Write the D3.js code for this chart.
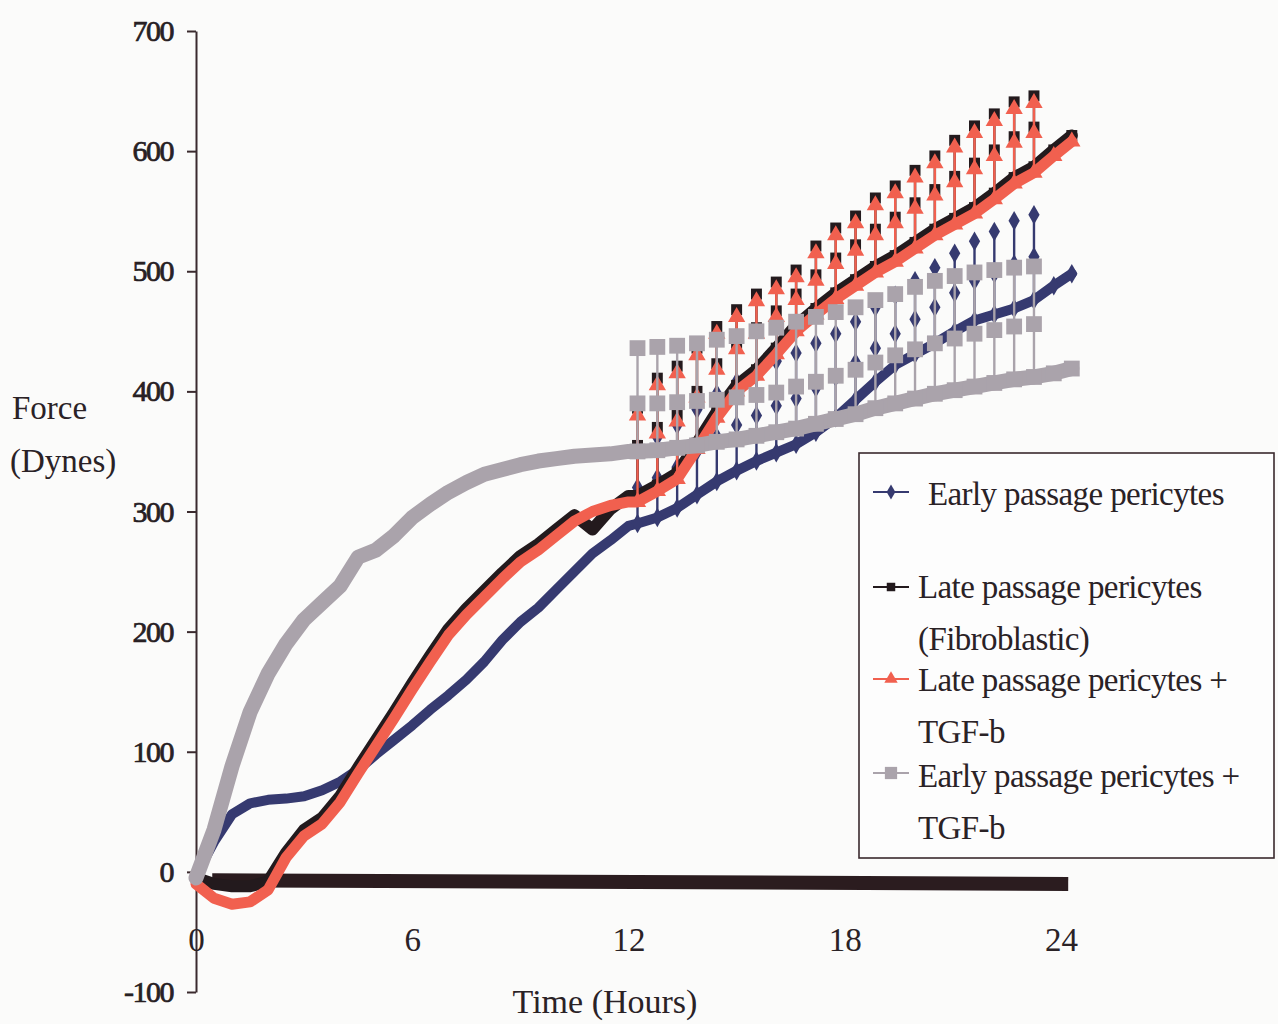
<!DOCTYPE html>
<html>
<head>
<meta charset="utf-8">
<script src="https://cdn.jsdelivr.net/npm/d3@7"></script>
<style>
  html, body { margin: 0; padding: 0; background: #fbfbfa; }
  svg { display: block; }
  text { font-family: "Liberation Serif", "Times New Roman", serif; fill: #2a2226; }
</style>
</head>
<body>
<svg id="chart" width="1278" height="1024"></svg>
<script>
// ---- data: hours and force (dynes) ----
const tEarly = [0, 0.5, 1, 1.5, 2, 2.5, 3, 3.5, 4, 4.5, 5, 5.5, 6, 6.5, 7, 7.5, 8, 8.5, 9, 9.5, 10, 10.5, 11, 11.5, 12];
const earlyPassage   = [-3, 25, 48, 57, 60, 61, 63, 68, 75, 85, 98, 110, 122, 135, 147, 160, 175, 193, 208, 220, 235, 250, 265, 276, 288];
const latePassage    = [-5, -10, -12, -12, -8, 16, 35, 45, 63, 87, 110, 133, 157, 180, 202, 219, 234, 249, 263, 273, 285, 297, 285, 302, 313];
const lateTgf        = [-10, -22, -27, -25, -15, 12, 30, 40, 58, 82, 105, 128, 152, 175, 197, 214, 229, 244, 258, 268, 280, 292, 300, 305, 308];
const earlyTgf       = [-5, 35, 88, 133, 165, 190, 210, 224, 238, 262, 268, 280, 295, 306, 316, 324, 331, 335, 339, 342, 344, 346, 347, 348, 350];

// second half of the run: lower trace
const tLate = [12.25, 12.8, 13.35, 13.9, 14.45, 15.0, 15.55, 16.1, 16.65, 17.2, 17.75, 18.3, 18.85, 19.4, 19.95, 20.5, 21.05, 21.6, 22.15, 22.7, 23.25, 23.8, 24.3];
const earlyPassageLow = [290, 295, 303, 314, 325, 334, 342, 349, 356, 366, 378, 393, 408, 422, 431, 440, 450, 459, 464, 469, 476, 488, 498];
const latePassageLow  = [313, 322, 332, 357, 383, 405, 418, 436, 455, 469, 482, 493, 504, 513, 524, 535, 544, 553, 565, 578, 587, 601, 613];
const lateTgfLow      = [308, 317, 327, 352, 378, 400, 413, 431, 450, 464, 477, 488, 499, 508, 519, 530, 539, 548, 560, 573, 582, 596, 608];
const earlyTgfLow     = [350, 351, 353, 355, 358, 360, 363, 366, 369, 373, 377, 381, 386, 390, 394, 398, 401, 404, 407, 410, 412, 415, 419];

// second half of the run: middle and upper readings at each bar
const tBars = [12.25, 12.8, 13.35, 13.9, 14.45, 15.0, 15.55, 16.1, 16.65, 17.2, 17.75, 18.3, 18.85, 19.4, 19.95, 20.5, 21.05, 21.6, 22.15, 22.7, 23.25];
const earlyPassageMid  = [320, 328, 337, 350, 362, 372, 380, 388, 394, 403, 412, 424, 436, 448, 460, 470, 482, 492, 498, 506, 512];
const earlyPassageHigh = [350, 362, 372, 385, 398, 408, 418, 425, 432, 440, 448, 458, 470, 480, 492, 503, 515, 525, 533, 542, 547];
const latePassageMid   = [355, 370, 380, 400, 423, 440, 453, 467, 481, 497, 511, 522, 535, 545, 557, 568, 579, 590, 601, 612, 620];
const latePassageHigh  = [386, 411, 421, 436, 454, 468, 481, 491, 501, 521, 536, 546, 561, 571, 584, 596, 609, 621, 631, 641, 646];
const lateTgfMid       = [350, 365, 375, 395, 418, 435, 448, 462, 476, 492, 506, 517, 530, 540, 552, 563, 574, 585, 596, 607, 615];
const lateTgfHigh      = [380, 405, 415, 430, 448, 462, 475, 485, 495, 515, 530, 540, 555, 565, 578, 590, 603, 615, 625, 635, 640];
const earlyTgfMid      = [390, 390, 391, 392, 393, 395, 397, 399, 404, 408, 413, 418, 424, 430, 435, 440, 444, 448, 451, 454, 456];
const earlyTgfHigh     = [436, 437, 438, 440, 443, 446, 450, 453, 458, 462, 466, 470, 476, 481, 487, 492, 496, 499, 501, 503, 504];

// cell-free reference trace
const tBaseline = [0.45, 24.2];
const baselineForce = [-7, -10];

const yTicks = [-100, 0, 100, 200, 300, 400, 500, 600, 700];
const xTicks = [0, 6, 12, 18, 24];

const seriesNames = ["Early passage pericytes", "Late passage pericytes (Fibroblastic)", "Late passage pericytes + TGF-b", "Early passage pericytes + TGF-b"];
const legendLines = [["Early passage pericytes"], ["Late passage pericytes", "(Fibroblastic)"], ["Late passage pericytes +", "TGF-b"], ["Early passage pericytes +", "TGF-b"]];

// ---- series table ----
const series = [
  { name: seriesNames[0], color: "#363a70", symbol: d3.symbolDiamond, size: 110, band: 10,
    early: earlyPassage, low: earlyPassageLow, mid: earlyPassageMid, high: earlyPassageHigh },
  { name: seriesNames[1], color: "#231a1d", symbol: d3.symbolSquare, size: 120, band: 12,
    early: latePassage, low: latePassageLow, mid: latePassageMid, high: latePassageHigh },
  { name: seriesNames[2], color: "#f1604f", symbol: d3.symbolTriangle, size: 130, band: 11,
    early: lateTgf, low: lateTgfLow, mid: lateTgfMid, high: lateTgfHigh },
  { name: seriesNames[3], color: "#aaa3ab", symbol: d3.symbolSquare, size: 250, band: 15,
    early: earlyTgf, low: earlyTgfLow, mid: earlyTgfMid, high: earlyTgfHigh }
];

const svg = d3.select("#chart");
const x = d3.scaleLinear().domain([0, 24]).range([196, 1061]);
const y = d3.scaleLinear().domain([-100, 700]).range([992, 31]);
const plain = d => String(d);

// cell-free trace (thick dark bar)
const baseline = tBaseline.map((t, i) => [t, baselineForce[i]]);
svg.append("path")
  .datum(baseline)
  .attr("d", d3.line().x(d => x(d[0])).y(d => y(d[1])))
  .attr("stroke", "#2b1c1f").attr("stroke-width", 14).attr("fill", "none");

// y axis
const yAxis = svg.append("g")
  .attr("transform", `translate(${x(0)},0)`)
  .call(d3.axisLeft(y).tickValues(yTicks).tickSize(9).tickSizeOuter(0).tickPadding(14).tickFormat(plain));
yAxis.select(".domain").attr("stroke", "#3a2a2e").attr("stroke-width", 2);
yAxis.selectAll(".tick line").attr("stroke", "#3a2a2e").attr("stroke-width", 2);
yAxis.selectAll(".tick text")
  .style("font-family", "'Liberation Serif', serif").style("font-size", "30px")
  .style("letter-spacing", "-1.5px").attr("fill", "#221a1d")
  .attr("stroke", "#221a1d").attr("stroke-width", 0.7);

// x tick labels (no axis line)
const xAxis = svg.append("g")
  .attr("transform", `translate(0,${y(-56)})`)
  .call(d3.axisBottom(x).tickValues(xTicks).tickSize(0).tickPadding(0).tickFormat(plain));
xAxis.select(".domain").remove();
xAxis.selectAll(".tick text")
  .style("font-family", "'Liberation Serif', serif").style("font-size", "33px")
  .attr("dy", "0.35em").attr("fill", "#2a2226");

// axis titles
svg.append("text").attr("x", 12).attr("y", 419).style("font-size", "33px").text("Force");
svg.append("text").attr("x", 10).attr("y", 472).style("font-size", "33px").text("(Dynes)");
svg.append("text").attr("x", 605).attr("y", 1013).attr("text-anchor", "middle").style("font-size", "34px").text("Time (Hours)");

const line = d3.line().x(d => x(d[0])).y(d => y(d[1]));

// traces, drawn in legend order so later series sit on top
series.forEach((s, idx) => {
  const g = svg.append("g").attr("class", "series-" + idx);
  const firstHalf = tEarly.map((t, i) => [t, s.early[i]]);
  const secondHalf = tLate.map((t, i) => [t, s.low[i]]);
  const pts = firstHalf.concat(secondHalf);
  const bars = tBars.map((t, i) => ({ t, lo: s.low[i], mid: s.mid[i], hi: s.high[i] }));

  // vertical spread between lower and upper readings
  g.selectAll("line.bar").data(bars).join("line")
    .attr("class", "bar")
    .attr("x1", d => x(d.t)).attr("x2", d => x(d.t))
    .attr("y1", d => y(d.lo)).attr("y2", d => y(d.hi))
    .attr("stroke", s.color).attr("stroke-width", 2.4);

  g.append("path").datum(pts)
    .attr("d", line)
    .attr("fill", "none").attr("stroke", s.color)
    .attr("stroke-width", s.band).attr("stroke-linejoin", "round").attr("stroke-linecap", "round");

  const sym = d3.symbol().type(s.symbol).size(s.size);
  g.selectAll("path.pt").data(secondHalf).join("path")
    .attr("class", "pt")
    .attr("transform", d => `translate(${x(d[0])},${y(d[1])})`)
    .attr("d", sym).attr("fill", s.color);

  const marks = bars.flatMap(b => [[b.t, b.mid], [b.t, b.hi]]);
  g.selectAll("path.mk").data(marks).join("path")
    .attr("class", "mk")
    .attr("transform", d => `translate(${x(d[0])},${y(d[1])})`)
    .attr("d", sym).attr("fill", s.color);
});

// legend
const legend = svg.append("g");
legend.append("rect")
  .attr("x", 859).attr("y", 453).attr("width", 415).attr("height", 405)
  .attr("fill", "#fdfdfd").attr("stroke", "#3a2a2e").attr("stroke-width", 1.6);

const legendRows = [
  { sx: 873, sy: 492, tx: 928, ty: 505 },
  { sx: 873, sy: 587, tx: 918, ty: 598 },
  { sx: 873, sy: 679, tx: 918, ty: 691 },
  { sx: 873, sy: 773, tx: 918, ty: 787 }
];
series.forEach((s, i) => {
  const r = legendRows[i];
  legend.append("line")
    .attr("x1", r.sx).attr("x2", r.sx + 36).attr("y1", r.sy).attr("y2", r.sy)
    .attr("stroke", s.color).attr("stroke-width", 2);
  legend.append("path")
    .attr("transform", `translate(${r.sx + 18},${r.sy})`)
    .attr("d", d3.symbol().type(s.symbol).size(s.size * 0.6)).attr("fill", s.color);
  legendLines[i].forEach((txt, k) => {
    legend.append("text")
      .attr("x", r.tx).attr("y", r.ty + k * 52)
      .style("font-size", "33px").style("letter-spacing", "-0.6px")
      .text(txt);
  });
});
</script>
</body>
</html>
